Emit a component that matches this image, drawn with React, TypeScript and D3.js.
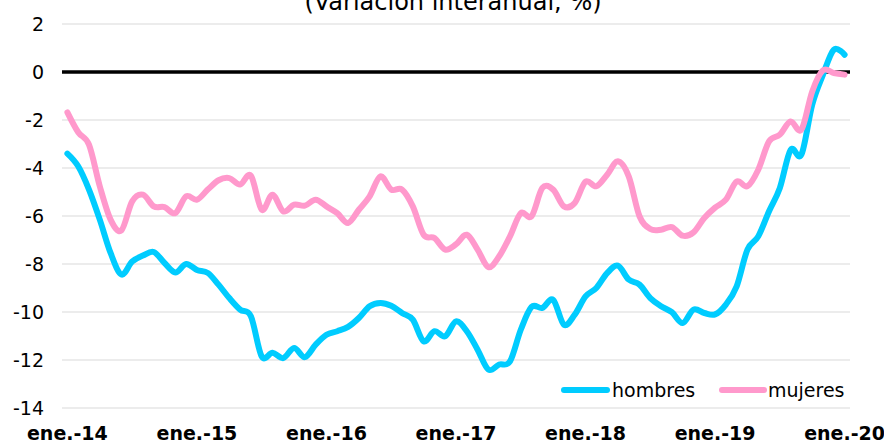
import React from "react";
import * as d3 from "d3";

const monthNames = ["ene.", "feb.", "mar.", "abr.", "may.", "jun.", "jul.", "ago.", "sept.", "oct.", "nov.", "dic."];
const years = ["14", "15", "16", "17", "18", "19", "20"];
const categories: string[] = [];
years.forEach((y) => monthNames.forEach((m) => categories.push(`${m}-${y}`)));
categories.splice(73);

const hombres = [
  -3.4, -3.93, -4.9, -6.15, -7.54, -8.44, -7.9, -7.65, -7.5, -7.96, -8.35, -8.0,
  -8.25, -8.37, -8.86, -9.42, -9.9, -10.18, -11.85, -11.7, -11.92, -11.5, -11.88, -11.36,
  -10.95, -10.8, -10.62, -10.25, -9.76, -9.62, -9.74, -10.04, -10.32, -11.22, -10.8, -11.01,
  -10.39, -10.8, -11.57, -12.4, -12.19, -12.06, -10.74, -9.79, -9.83, -9.49, -10.53, -10.11,
  -9.35, -9.0, -8.38, -8.07, -8.65, -8.86, -9.42, -9.76, -10.01, -10.46, -9.9, -10.04,
  -10.1, -9.69, -8.93, -7.4, -6.85, -5.8, -4.83, -3.24, -3.44, -1.36, -0.11, 0.93,
  0.72,
];

const mujeres = [
  -1.68, -2.51, -3.03, -4.76, -6.15, -6.6, -5.39, -5.11, -5.6, -5.63, -5.88, -5.18,
  -5.32, -4.9, -4.51, -4.42, -4.69, -4.32, -5.74, -5.11, -5.81, -5.53, -5.57, -5.32,
  -5.6, -5.88, -6.29, -5.74, -5.18, -4.35, -4.9, -4.9, -5.6, -6.78, -6.92, -7.4,
  -7.18, -6.78, -7.4, -8.13, -7.68, -6.85, -5.88, -6.01, -4.83, -4.9, -5.6, -5.46,
  -4.57, -4.76, -4.28, -3.72, -4.35, -6.01, -6.54, -6.57, -6.46, -6.82, -6.68, -6.08,
  -5.65, -5.32, -4.56, -4.76, -4.07, -2.89, -2.61, -2.06, -2.4, -0.81, 0.07, -0.04,
  -0.11,
];

const yTicks = [2, 0, -2, -4, -6, -8, -10, -12, -14];
const xTickLabels = ["ene.-14", "ene.-15", "ene.-16", "ene.-17", "ene.-18", "ene.-19", "ene.-20"];
const title = "(Variación interanual, %)";
const seriesNames = ["hombres", "mujeres"];
const seriesColors = ["#00CCFF", "#FF99CC"];

const W = 884;
const H = 443;
const left = 62;
const right = 850;

export default function App() {
  const x = d3.scalePoint<string>().domain(categories).range([left, right]).padding(0.5);
  const y = d3.scaleLinear().domain([-14, 2]).range([408, 24]);

  const line = d3
    .line<number>()
    .x((_, i) => x(categories[i]) as number)
    .y((d) => y(d))
    .curve(d3.curveCardinal.tension(0));

  const series = [hombres, mujeres];

  return (
    <svg
      width={W}
      height={H}
      style={{ position: "absolute", left: 0, top: 0, background: "#fff" }}
      fontFamily="DejaVu Sans, Verdana, sans-serif"
    >
      <rect width={W} height={H} fill="#fff" />
      <text x={453} y={10} textAnchor="middle" fontSize={24} fill="#000">
        {title}
      </text>
      {yTicks.map((t) => (
        <g key={t}>
          {t !== 0 && (
            <line x1={left} x2={right} y1={y(t)} y2={y(t)} stroke="#d9d9d9" strokeWidth={1} />
          )}
          <text x={44} y={y(t)} dy="0.35em" textAnchor="end" fontSize={19} fill="#000">
            {t}
          </text>
        </g>
      ))}
      <line x1={left} x2={right} y1={y(0)} y2={y(0)} stroke="#000" strokeWidth={3.5} />
      {series.map((s, k) => (
        <path
          key={k}
          d={line(s) || ""}
          fill="none"
          stroke={seriesColors[k]}
          strokeWidth={6}
          strokeLinecap="round"
          strokeLinejoin="round"
        />
      ))}
      {xTickLabels.map((lab) => (
        <text
          key={lab}
          x={x(lab) as number}
          y={440}
          textAnchor="middle"
          fontSize={19}
          fontWeight="bold"
          fill="#000"
        >
          {lab}
        </text>
      ))}
      <g>
        <line x1={564} x2={607} y1={390} y2={390} stroke={seriesColors[0]} strokeWidth={6} strokeLinecap="round" />
        <text x={612} y={390} dy="0.35em" fontSize={19} fill="#000">
          {seriesNames[0]}
        </text>
        <line x1={722} x2={764} y1={390} y2={390} stroke={seriesColors[1]} strokeWidth={6} strokeLinecap="round" />
        <text x={768} y={390} dy="0.35em" fontSize={19} fill="#000">
          {seriesNames[1]}
        </text>
      </g>
    </svg>
  );
}
